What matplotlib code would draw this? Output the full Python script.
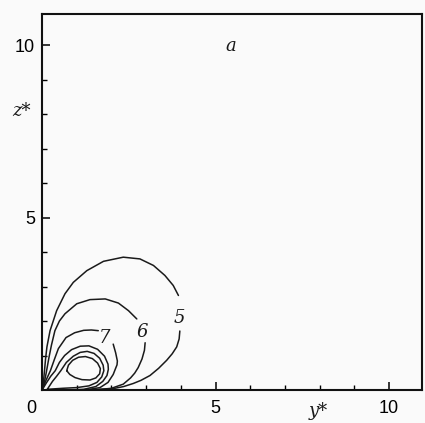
import numpy as np
from matplotlib import pyplot as plt
from matplotlib import transforms

# isolines (y*, z*), each split where its label sits
c5_top_x = [0.0, 0.04, 0.07, 0.10, 0.14, 0.23, 0.42, 0.66, 0.90, 1.29, 1.77, 2.34, 2.82, 3.21, 3.54, 3.78, 3.93]
c5_top_y = [0.0, 0.25, 0.56, 0.90, 1.25, 1.72, 2.30, 2.79, 3.12, 3.46, 3.73, 3.85, 3.80, 3.61, 3.32, 3.03, 2.74]
c5_bot_x = [3.97, 3.95, 3.88, 3.75, 3.59, 3.36, 3.11, 2.85, 2.63, 2.35, 2.05, 1.5, 1.0, 0.5, 0.0]
c5_bot_y = [1.71, 1.48, 1.25, 1.05, 0.86, 0.63, 0.42, 0.28, 0.19, 0.10, 0.04, 0.01, 0.0, 0.0, 0.0]

c6_top_x = [0.0, 0.06, 0.12, 0.20, 0.27, 0.37, 0.50, 0.66, 1.00, 1.38, 1.82, 2.20, 2.49, 2.73]
c6_top_y = [0.0, 0.20, 0.50, 0.95, 1.30, 1.72, 2.00, 2.21, 2.50, 2.62, 2.64, 2.52, 2.30, 2.06]
c6_bot_x = [2.97, 2.95, 2.88, 2.77, 2.67, 2.55, 2.34, 2.0, 1.6, 1.0, 0.4, 0.0]
c6_bot_y = [1.37, 1.15, 0.90, 0.65, 0.49, 0.35, 0.17, 0.05, 0.01, 0.0, 0.0, 0.0]

c7_top_x = [0.0, 0.10, 0.24, 0.36, 0.47, 0.69, 0.94, 1.20, 1.42, 1.62]
c7_top_y = [0.0, 0.25, 0.56, 0.90, 1.20, 1.52, 1.66, 1.73, 1.74, 1.72]
c7_bot_x = [2.05, 2.12, 2.17, 2.16, 2.12, 2.05, 1.9, 1.67, 1.3, 0.8, 0.0]
c7_bot_y = [1.33, 1.08, 0.84, 0.73, 0.63, 0.45, 0.22, 0.07, 0.01, 0.0, 0.0]

ca_x = [0.0, 0.12, 0.25, 0.38, 0.50, 0.65, 0.85, 1.10, 1.35, 1.60, 1.80, 1.90, 1.91, 1.87, 1.75, 1.55, 1.2, 0.7, 0.0]
ca_y = [0.0, 0.20, 0.40, 0.56, 0.80, 1.00, 1.17, 1.27, 1.28, 1.18, 0.98, 0.75, 0.60, 0.42, 0.25, 0.10, 0.02, 0.0, 0.0]

cb_x = [0.15, 0.30, 0.42, 0.54, 0.70, 0.90, 1.10, 1.30, 1.50, 1.66, 1.76, 1.78, 1.72, 1.58, 1.35, 1.0, 0.6, 0.3, 0.15]
cb_y = [0.02, 0.25, 0.40, 0.56, 0.80, 0.98, 1.09, 1.12, 1.06, 0.92, 0.72, 0.56, 0.38, 0.22, 0.12, 0.07, 0.05, 0.03, 0.02]

cc_x = [0.71, 0.76, 0.88, 1.05, 1.25, 1.45, 1.60, 1.68, 1.66, 1.55, 1.38, 1.15, 0.95, 0.80, 0.71]
cc_y = [0.56, 0.72, 0.86, 0.95, 0.97, 0.91, 0.78, 0.62, 0.47, 0.35, 0.29, 0.30, 0.36, 0.45, 0.56]

labels = ['5', '6', '7']
label_x = [3.97, 2.9, 1.8]
label_y = [2.1, 1.68, 1.5]

xticks = [0, 5, 10]
xtick_labels = ['0', '5', '10']
yticks = [5, 10]
ytick_labels = ['5', '10']

fig = plt.figure(figsize=(4.25, 4.23), dpi=100)
fig.patch.set_facecolor('#fafafa')
ax = fig.add_axes([0.099, 0.078, 0.894, 0.889])
ax.set_facecolor('#fafafa')

lines = [(c5_top_x, c5_top_y), (c5_bot_x, c5_bot_y),
         (c6_top_x, c6_top_y), (c6_bot_x, c6_bot_y),
         (c7_top_x, c7_top_y), (c7_bot_x, c7_bot_y),
         (ca_x, ca_y), (cb_x, cb_y), (cc_x, cc_y)]
for lx, ly in lines:
    ax.plot(lx, ly, color='#1a1a1a', lw=1.1, solid_capstyle='round', solid_joinstyle='round')

for t, x, y in zip(labels, label_x, label_y):
    ax.text(x, y, t, fontsize=13, family='DejaVu Serif', style='italic',
            ha='center', va='center', color='#1a1a1a')

ax.text(5.45, 9.97, 'a', fontsize=13, family='DejaVu Serif', style='italic',
        ha='center', va='center', color='#1a1a1a')
ax.text(-0.6, 8.1, 'z*', fontsize=13, family='DejaVu Serif', style='italic',
        ha='center', va='center', color='#1a1a1a')
ax.text(7.95, -0.6, 'y*', fontsize=13, family='DejaVu Serif', style='italic',
        ha='center', va='center', color='#1a1a1a')

ax.set_xlim(0, 10.95)
ax.set_ylim(0, 10.9)
ax.set_xticks(xticks)
ax.set_xticklabels(xtick_labels)
ax.set_yticks(yticks)
ax.set_yticklabels(ytick_labels)
ax.set_xticks(range(1, 11), minor=True)
ax.set_yticks(range(1, 11), minor=True)
ax.tick_params(which='major', direction='in', length=6, width=1.1, labelsize=13)
ax.tick_params(axis='x', which='major', pad=7)
ax.tick_params(axis='y', which='major', pad=5)
ax.tick_params(which='minor', direction='in', length=3.5, width=1.0)
for lab in ax.get_xticklabels() + ax.get_yticklabels():
    lab.set_family('Liberation Sans')
# the corner "0" sits left of the axis line
ax.get_xticklabels()[0].set_transform(ax.get_xticklabels()[0].get_transform() +
                                      transforms.ScaledTranslation(-0.11, 0, fig.dpi_scale_trans))
for s in ax.spines.values():
    s.set_linewidth(1.5)
    s.set_color('#111111')

fig.savefig('out.png', dpi=100, facecolor=fig.get_facecolor())
